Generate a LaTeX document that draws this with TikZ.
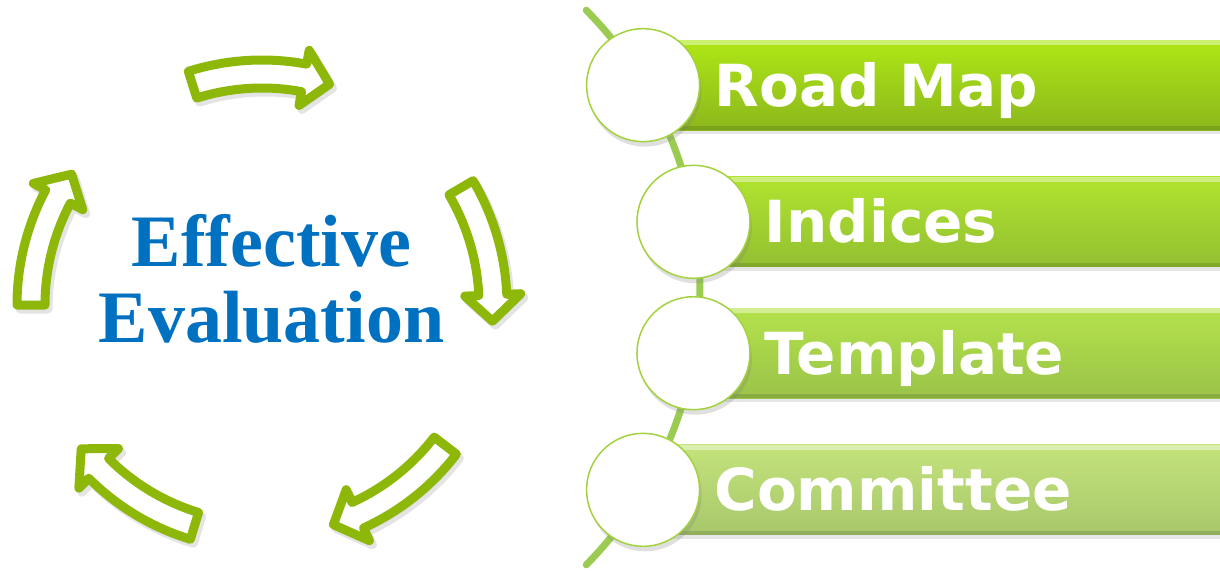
\documentclass[tikz,border=0pt]{standalone}
\usepackage{fontspec}
\newfontfamily\barfont{DejaVu Sans}
\newfontfamily\titlefont{Liberation Serif}
\usetikzlibrary{positioning,calc,shadows}

\definecolor{ringgreen}{HTML}{8DB80A}
\definecolor{spinegreen}{HTML}{9CCB52}
\definecolor{rimgreen}{HTML}{A3D23E}
\definecolor{evalblue}{HTML}{0070C0}
\definecolor{barAtop}{HTML}{AEE715}
\definecolor{barAbot}{HTML}{8CB71D}
\definecolor{barBtop}{HTML}{B0E42F}
\definecolor{barBbot}{HTML}{93BF32}
\definecolor{barCtop}{HTML}{B4E24B}
\definecolor{barCbot}{HTML}{9AC349}
\definecolor{barDtop}{HTML}{C4E37C}
\definecolor{barDbot}{HTML}{A7C76B}

% one block arrow of the cycle, tail at angle #1
\newcommand{\cycarrow}[2]{%
  \draw[#2] (#1:245) arc[start angle=#1, end angle=#1+28, radius=245]
    -- (#1+28:259) -- (#1+34.5:231) -- (#1+28:203) -- (#1+28:217)
    arc[start angle=#1+28, end angle=#1, radius=217] -- cycle;}

\begin{document}
\begin{tikzpicture}[
  x=1pt, y=-1pt,
  ring/.style={draw=ringgreen, line width=9pt, line join=round, fill=white},
  ringshadow/.style={draw=black!35, fill=black!35, line width=9pt, line join=round, opacity=0.3, shift={(3,4)}},
  spine/.style={draw=spinegreen, line width=7pt, line cap=round},
  disc/.style={circle, draw=rimgreen, line width=1.5pt, fill=white, minimum size=113pt, inner sep=0pt,
    drop shadow={shadow xshift=2pt, shadow yshift=-5pt, opacity=0.25}},
  bar/.style={rectangle, anchor=west, minimum width=600pt, minimum height=90pt, inner sep=0pt,
    drop shadow={shadow xshift=0pt, shadow yshift=-4pt, opacity=0.2},
    path picture={
      \fill[white, opacity=0.4] (path picture bounding box.north west) rectangle ([yshift=-5pt]path picture bounding box.north east);
      \fill[black, opacity=0.12] ([yshift=4pt]path picture bounding box.south west) rectangle (path picture bounding box.south east);
    }},
  lbl/.style={font={\barfont\bfseries\fontsize{58pt}{58pt}\selectfont}, text=white, inner sep=0pt,
    text height=42pt, text depth=0pt},
  title/.style={font={\titlefont\bfseries\fontsize{74pt}{76pt}\selectfont}, text=evalblue, anchor=base, inner sep=0pt}
]
\useasboundingbox (0,0) rectangle (1220,572);

%======================
% LEFT: CYCLE OF ARROWS
%======================

\coordinate (cyc) at (262,305);

\begin{scope}[shift={(cyc)}]
  \foreach \a in {-107.5,-30.5,37.5,107,180} {
    \cycarrow{\a}{ringshadow}
    \cycarrow{\a}{ring}
  }
\end{scope}

\node[title] (eff) at (271.5,266) {Effective};
\node[title] (evl) at (271.5,342) {Evaluation};

%======================
% RIGHT: SPINE + BARS
%======================

\coordinate (spc) at (305,287.5);

% curved spine
\draw[spine] (spc) ++(-44.6:395) arc[start angle=-44.6, end angle=44.6, radius=395];

% disc centres on the spine
\coordinate (p1) at ($(spc)+(-30.9:394)$);
\coordinate (p2) at ($(spc)+(-9.6:394)$);
\coordinate (p3) at ($(spc)+(9.6:394)$);
\coordinate (p4) at ($(spc)+(30.9:394)$);

% bars
\foreach \n/\tc/\bc in {1/barAtop/barAbot, 2/barBtop/barBbot, 3/barCtop/barCbot, 4/barDtop/barDbot} {
  \node[bar, top color=\tc, bottom color=\bc] (b\n) at (p\n) {};
}

% discs
\foreach \n in {1,...,4} {
  \node[disc] (c\n) at (p\n) {};
}

% labels
\foreach \n/\t in {1/Road Map, 2/Indices, 3/Template, 4/Committee} {
  \node[lbl, right=14pt of c\n] (t\n) {\t};
}

\end{tikzpicture}
\end{document}
